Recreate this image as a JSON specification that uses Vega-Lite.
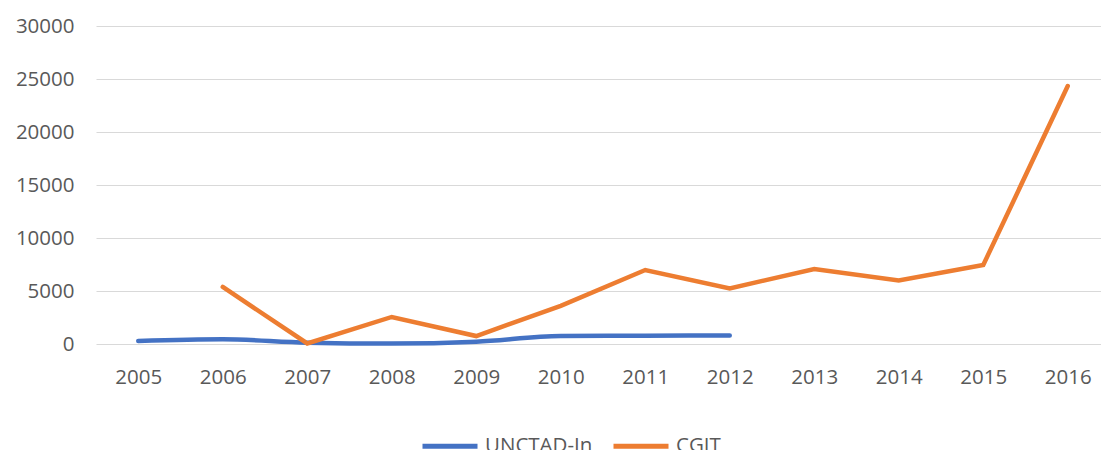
{
  "$schema": "https://vega.github.io/schema/vega-lite/v6.json",
  "autosize": {"type": "none"},
  "padding": {"left": 96, "top": 26, "right": 0, "bottom": 106},
  "width": 1014,
  "height": 318,
  "background": "white",
  "config": {
    "view": {"stroke": null},
    "font": "Open Sans",
    "axis": {"labelFont": "Open Sans", "labelColor": "#595959", "labelFontSize": 20.5, "ticks": false, "domain": false, "gridColor": "#d9d9d9", "gridWidth": 1},
    "legend": {"labelFont": "Open Sans", "labelColor": "#595959", "labelFontSize": 20.5}
  },
  "data": {
    "values": [
      {"year": "2005", "series": "UNCTAD-In", "value": 280},
      {"year": "2006", "series": "UNCTAD-In", "value": 440},
      {"year": "2007", "series": "UNCTAD-In", "value": 120},
      {"year": "2008", "series": "UNCTAD-In", "value": 40},
      {"year": "2009", "series": "UNCTAD-In", "value": 220},
      {"year": "2010", "series": "UNCTAD-In", "value": 750},
      {"year": "2011", "series": "UNCTAD-In", "value": 780},
      {"year": "2012", "series": "UNCTAD-In", "value": 800},
      {"year": "2006", "series": "CGIT", "value": 5380},
      {"year": "2007", "series": "CGIT", "value": 50},
      {"year": "2008", "series": "CGIT", "value": 2550},
      {"year": "2009", "series": "CGIT", "value": 750},
      {"year": "2010", "series": "CGIT", "value": 3600},
      {"year": "2011", "series": "CGIT", "value": 6980},
      {"year": "2012", "series": "CGIT", "value": 5250},
      {"year": "2013", "series": "CGIT", "value": 7075},
      {"year": "2014", "series": "CGIT", "value": 6000},
      {"year": "2015", "series": "CGIT", "value": 7450},
      {"year": "2016", "series": "CGIT", "value": 24340}
    ]
  },
  "encoding": {
    "x": {"field": "year", "type": "ordinal", "title": null,
      "scale": {"domain": ["2005","2006","2007","2008","2009","2010","2011","2012","2013","2014","2015","2016"], "paddingInner": 0, "paddingOuter": 0.5},
      "axis": {"labelAngle": 0, "labelPadding": 23, "grid": false}},
    "y": {"field": "value", "type": "quantitative", "title": null,
      "scale": {"domain": [0, 30000], "nice": false},
      "axis": {"values": [0,5000,10000,15000,20000,25000,30000], "labelPadding": 22, "format": "d"}},
    "color": {"field": "series", "type": "nominal", "title": null,
      "scale": {"domain": ["UNCTAD-In", "CGIT"], "range": ["#4472C4", "#ED7D31"]},
      "legend": {"orient": "none", "legendX": 324, "legendY": 390, "direction": "horizontal", "symbolType": "stroke", "symbolSize": 3025, "symbolStrokeWidth": 5, "columnPadding": 10, "labelOffset": 5}}
  },
  "layer": [
    {"transform": [{"filter": "datum.series == 'UNCTAD-In'"}],
     "mark": {"type": "line", "strokeWidth": 4.5, "interpolate": "monotone", "strokeCap": "round"}},
    {"transform": [{"filter": "datum.series == 'CGIT'"}],
     "mark": {"type": "line", "strokeWidth": 4.5, "strokeCap": "round", "strokeJoin": "miter"}}
  ]
}
